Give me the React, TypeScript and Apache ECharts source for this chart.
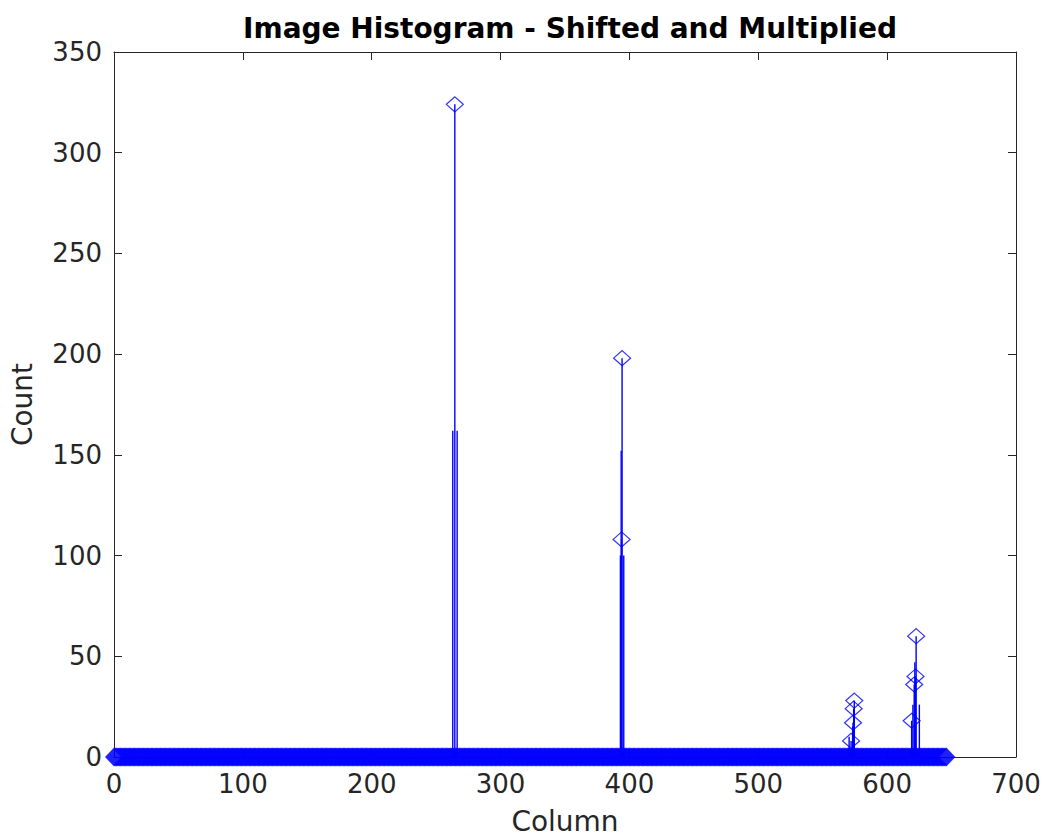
import React, { useEffect, useRef } from "react";
import * as echarts from "echarts";

// Histogram: most columns have a count of zero (shown as a band of markers at y = 0)
const firstColumn = 0;
const lastColumn = 646;
const baseColumns: number[] = Array.from({ length: lastColumn - firstColumn + 1 }, (_, i) => firstColumn + i);
const baseCounts: number[] = baseColumns.map(() => 0);

// Peaks drawn with a diamond marker
const peakColumns = [264.5, 394.3, 393.9, 572, 573.5, 574, 574.5, 619, 621, 622, 622.5];
const peakCounts = [324, 198, 108, 8, 17, 24, 28, 18, 36, 40, 60];

// Stems visible without a marker head
const stemColumns = [262.9, 266.3, 393.6, 393, 395.6, 570.5, 573.2, 620, 625, 621.5];
const stemCounts = [162, 162, 152, 100, 100, 10, 15, 26, 26, 47];

const xTicks = { min: 0, max: 700, interval: 100 };
const yTicks = { min: 0, max: 350, interval: 50 };

const titleText = "Image Histogram - Shifted and Multiplied";
const xLabel = "Column";
const yLabel = "Count";

const BLUE = "#0000ff";
const AXIS = "#262626";
const FONT = "DejaVu Sans";

export default function App() {
  const ref = useRef<HTMLDivElement>(null);
  useEffect(() => {
    document.body.style.margin = "0";
    const chart = echarts.init(ref.current!, undefined, { renderer: "svg" });
    const stemPairs = [
      ...peakColumns.map((x, i) => [x, peakCounts[i]]),
      ...stemColumns.map((x, i) => [x, stemCounts[i]]),
    ];
    const hollow = { color: "rgba(0,0,0,0)", borderColor: BLUE, borderWidth: 1.2 };
    const axisCommon = {
      axisLine: { show: true, onZero: false, lineStyle: { color: AXIS, width: 1 } },
      axisTick: { show: true, inside: true, length: 8, lineStyle: { color: AXIS } },
      splitLine: { show: false },
    };
    chart.setOption({
      animation: false,
      backgroundColor: "#ffffff",
      title: {
        text: titleText,
        left: 565,
        top: 9,
        textAlign: "center",
        textStyle: { fontFamily: FONT, fontSize: 28, fontWeight: "bold", color: "#000" },
      },
      grid: { left: 113, right: 29, top: 52, bottom: 78 },
      xAxis: [
        {
          type: "value",
          ...xTicks,
          position: "bottom",
          ...axisCommon,
          axisLabel: { fontFamily: FONT, fontSize: 26, color: AXIS, margin: 14 },
          name: xLabel,
          nameLocation: "middle",
          nameGap: 50,
          nameTextStyle: { fontFamily: FONT, fontSize: 28, color: AXIS },
        },
        {
          type: "value",
          ...xTicks,
          position: "top",
          ...axisCommon,
          axisLabel: { show: false },
        },
      ],
      yAxis: [
        {
          type: "value",
          ...yTicks,
          position: "left",
          ...axisCommon,
          axisLabel: { fontFamily: FONT, fontSize: 26, color: AXIS, margin: 12 },
          name: yLabel,
          nameLocation: "middle",
          nameGap: 78,
          nameTextStyle: { fontFamily: FONT, fontSize: 28, color: AXIS },
        },
        {
          type: "value",
          ...yTicks,
          position: "right",
          ...axisCommon,
          axisLabel: { show: false },
        },
      ],
      series: [
        {
          type: "custom",
          xAxisIndex: 0,
          yAxisIndex: 0,
          data: stemPairs,
          renderItem: (params: any, api: any) => {
            const top = api.coord([api.value(0), api.value(1)]);
            const base = api.coord([api.value(0), 0]);
            return {
              type: "line",
              shape: { x1: base[0], y1: base[1], x2: top[0], y2: top[1] },
              style: { stroke: BLUE, lineWidth: 1.4 },
            };
          },
          z: 2,
        },
        {
          type: "scatter",
          data: baseColumns.map((x, i) => [x, baseCounts[i]]),
          symbol: "diamond",
          symbolSize: [16, 17],
          itemStyle: { ...hollow, borderWidth: 1.5 },
          z: 3,
        },
        {
          type: "scatter",
          data: peakColumns.map((x, i) => [x, peakCounts[i]]),
          symbol: "diamond",
          symbolSize: [17, 15],
          itemStyle: hollow,
          z: 4,
        },
      ],
    });
    return () => chart.dispose();
  }, []);
  return <div ref={ref} style={{ width: 1045, height: 840 }} />;
}
